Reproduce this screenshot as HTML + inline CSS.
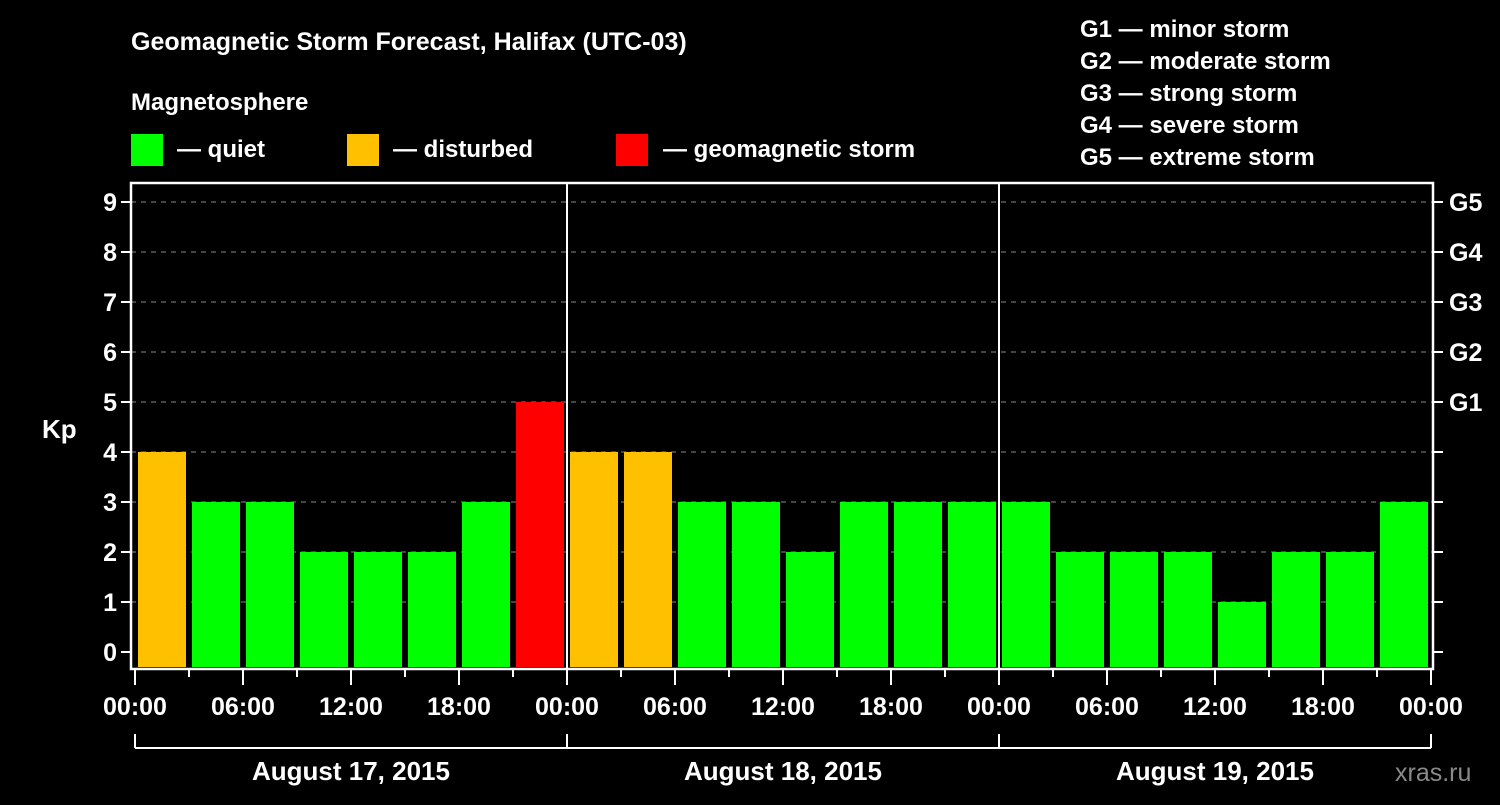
<!DOCTYPE html>
<html><head><meta charset="utf-8"><style>
body{margin:0;background:#000;width:1500px;height:800px;overflow:hidden}
svg{font-family:"Liberation Sans",sans-serif;font-weight:bold;fill:#fff}
</style></head><body>
<svg id="c" width="1500" height="800">
<text x="131" y="50" font-size="25">Geomagnetic Storm Forecast, Halifax (UTC-03)</text>
<text x="131" y="110" font-size="24">Magnetosphere</text>
<g><rect x="131" y="134" width="32" height="32" fill="#00ff00"/><text x="177" y="157" font-size="24">— quiet</text></g>
<g><rect x="347" y="134" width="32" height="32" fill="#ffc000"/><text x="393" y="157" font-size="24">— disturbed</text></g>
<g><rect x="616" y="134" width="32" height="32" fill="#ff0000"/><text x="663" y="157" font-size="24">— geomagnetic storm</text></g>
<g font-size="24">
<text x="1080" y="37">G1 — minor storm</text><text x="1080" y="69">G2 — moderate storm</text><text x="1080" y="101">G3 — strong storm</text><text x="1080" y="133">G4 — severe storm</text><text x="1080" y="165">G5 — extreme storm</text></g>
<text x="42" y="438" font-size="26">Kp</text>
<text x="1395" y="781" font-size="25" fill="#888" style="fill:#8a8a8a;font-weight:normal">xras.ru</text>
<g id="plot"></g>
</svg>
<script>
const values=[4,3,3,2,2,2,3,5, 4,4,3,3,2,3,3,3, 3,2,2,2,1,2,2,3];
const hourLabels=["00:00","06:00","12:00","18:00"];
const dayLabels=["August 17, 2015","August 18, 2015","August 19, 2015"];
const gLabels=["G1","G2","G3","G4","G5"];
const NS="http://www.w3.org/2000/svg";
const g=document.getElementById('plot');
const X0=135,PX_H=18,Y0=652,PX_K=50,L=131,R=1433,T=183,B=669;
const xs=h=>X0+h*PX_H, ys=k=>Y0-k*PX_K;
function mk(t,a,p){const e=document.createElementNS(NS,t);for(const k in a)e.setAttribute(k,a[k]);(p||g).appendChild(e);return e;}
const col=v=>v>=5?"#ff0000":v>=4?"#ffc000":"#00ff00";
for(let k=0;k<=9;k++){
 if(k>=1){const gl=mk('line',{x1:L,x2:R,y1:ys(k),y2:ys(k),stroke:'#888','stroke-width':1,'stroke-dasharray':'5,5'});}
 mk('line',{x1:L-10,x2:L,y1:ys(k),y2:ys(k),stroke:'#fff','stroke-width':2});
 mk('line',{x1:R,x2:R+10,y1:ys(k),y2:ys(k),stroke:'#fff','stroke-width':2});
 const t=mk('text',{x:L-14,y:ys(k)+9,'font-size':25,'text-anchor':'end'});t.textContent=k;
 
 if(k>=5){const r=mk('text',{x:R+16,y:ys(k)+9,'font-size':25});r.textContent=gLabels[k-5];
 }
}
values.forEach((v,i)=>{const top=ys(v);const b=mk('rect',{x:xs(i*3)+3,y:top,width:48,height:667-top,fill:col(v)});
 });
mk('rect',{x:L,y:T,width:R-L,height:B-T,fill:'none',stroke:'#fff','stroke-width':2.5});
for(let d=1;d<dayLabels.length;d++)mk('line',{x1:xs(d*24),x2:xs(d*24),y1:T,y2:B,stroke:'#fff','stroke-width':2});
for(let h=0;h<=72;h+=3){const major=h%6===0;mk('line',{x1:xs(h),x2:xs(h),y1:B,y2:B+(major?16:8),stroke:'#fff','stroke-width':2});
 if(major){const t=mk('text',{x:xs(h),y:715,'font-size':25,'text-anchor':'middle'});t.textContent=hourLabels[(h/6)%4];
 }}
mk('line',{x1:xs(0),x2:xs(72),y1:748,y2:748,stroke:'#fff','stroke-width':2});
for(let d=0;d<=dayLabels.length;d++)mk('line',{x1:xs(d*24),x2:xs(d*24),y1:734,y2:748,stroke:'#fff','stroke-width':2});
dayLabels.forEach((s,d)=>{const t=mk('text',{x:xs(d*24+12),y:780,'font-size':26,'text-anchor':'middle'});t.textContent=s;
 });
</script>
</body></html>
